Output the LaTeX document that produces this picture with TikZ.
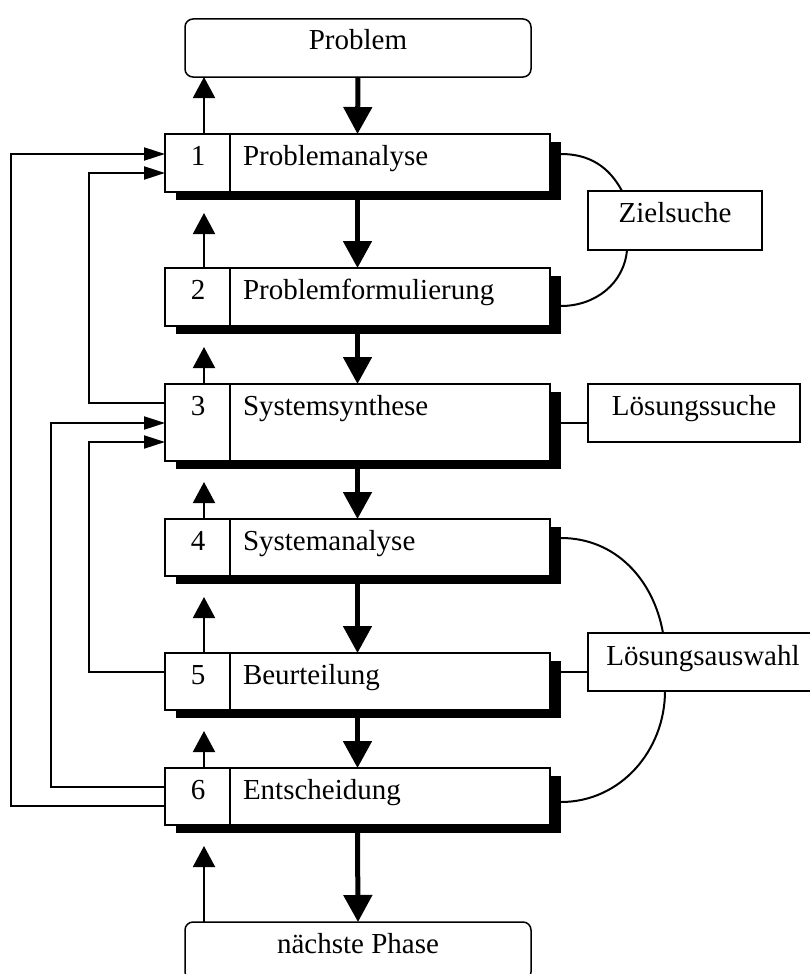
\documentclass[tikz,border=0pt]{standalone}
\usepackage{fontspec}
\setmainfont{Liberation Serif}
\usetikzlibrary{arrows.meta,shadows,calc}
\begin{document}
\begin{tikzpicture}[x=1pt,y=1pt,
  every node/.style={inner sep=0pt,outer sep=0pt},
  stepbox/.style={draw,line width=1.5pt,fill=white,anchor=north west,minimum width=385pt,
    drop shadow={shadow xshift=11pt,shadow yshift=-8pt,fill=black,opacity=1}},
  sidebox/.style={draw,line width=1.5pt,fill=white,anchor=north west},
  endbox/.style={draw,line width=1.5pt,fill=white,rounded corners=8pt,anchor=north west,minimum width=346pt,minimum height=58pt},
  lbl/.style={font=\fontsize{29}{34}\selectfont,anchor=base},
  lblw/.style={font=\fontsize{29}{34}\selectfont,anchor=base west},
  fb/.style={line width=2pt},
  hin/.style={line width=2pt,-{Triangle[length=21pt,width=13pt]}},
  up/.style={line width=2pt,-{Triangle[length=21pt,width=22pt]}},
  down/.style={line width=5pt,-{Triangle[length=27pt,width=28pt]}},
  conn/.style={line width=2pt}
]
\useasboundingbox (0,0) rectangle (810,-974);

% end boxes
\node[endbox] (prob) at (185,-19) {};
\node[lbl] (probt) at (358,-50) {Problem};
\node[endbox] (next) at (185,-922) {};
\node[lbl] (nextt) at (358,-953) {nächste Phase};

% step boxes
\node[stepbox,minimum height=58pt] (b1) at (165,-134) {};
\node[stepbox,minimum height=58pt] (b2) at (165,-268) {};
\node[stepbox,minimum height=77pt] (b3) at (165,-384) {};
\node[stepbox,minimum height=57pt] (b4) at (165,-519) {};
\node[stepbox,minimum height=57pt] (b5) at (165,-653) {};
\node[stepbox,minimum height=57pt] (b6) at (165,-768) {};

\foreach \b/\n/\t in {b1/1/Problemanalyse,b2/2/Problemformulierung,b3/3/Systemsynthese,b4/4/Systemanalyse,b5/5/Beurteilung,b6/6/Entscheidung}{
  \draw[line width=1.5pt] ([xshift=65pt]\b.north west) -- ([xshift=65pt]\b.south west);
  \node[lbl] (\b n) at ([xshift=33pt,yshift=-31pt]\b.north west) {\n};
  \node[lblw] (\b t) at ([xshift=78pt,yshift=-31pt]\b.north west) {\t};
}

% side boxes
\node[sidebox,minimum width=174pt,minimum height=59pt] (z) at (588,-191) {};
\node[lbl] (zt) at ([yshift=-31pt]z.north) {Zielsuche};
\node[sidebox,minimum width=212pt,minimum height=58pt] (ls) at (588,-384) {};
\node[lbl] (lst) at ([yshift=-31pt]ls.north) {Lösungssuche};
\node[sidebox,minimum width=226pt,minimum height=58pt] (la) at (588,-633) {};
\node[lbl] (lat) at ([xshift=2pt,yshift=-32pt]la.north) {Lösungsauswahl};

% down arrows
\draw[down] (prob.south) -- (b1.north);
\draw[down] ([yshift=-8pt]b1.south) -- (b2.north);
\draw[down] ([yshift=-8pt]b2.south) -- (b3.north);
\draw[down] ([yshift=-8pt]b3.south) -- (b4.north);
\draw[down] ([yshift=-8pt]b4.south) -- (b5.north);
\draw[down] ([yshift=-8pt]b5.south) -- (b6.north);
\draw[down] ([yshift=-8pt]b6.south) -- (next.north);

% up arrows
\draw[up] ([xshift=39pt]b1.north west) -- ([xshift=19pt]prob.south west);
\draw[up] ([xshift=39pt]b2.north west) -- ([xshift=39pt,yshift=-21pt]b1.south west);
\draw[up] ([xshift=39pt]b3.north west) -- ([xshift=39pt,yshift=-21pt]b2.south west);
\draw[up] ([xshift=39pt]b4.north west) -- ([xshift=39pt,yshift=-21pt]b3.south west);
\draw[up] ([xshift=39pt]b5.north west) -- ([xshift=39pt,yshift=-21pt]b4.south west);
\draw[up] ([xshift=39pt]b6.north west) -- ([xshift=39pt,yshift=-21pt]b5.south west);
\draw[up] ([xshift=19pt]next.north west) -- ([xshift=39pt,yshift=-21pt]b6.south west);

% feedback loops
\draw[hin] ([yshift=-19pt]b3.north west) -| (89,-173) -- ([yshift=-39pt]b1.north west);
\draw[hin] ([yshift=-38pt]b6.north west) -| (11,-154) -- ([yshift=-20pt]b1.north west);
\draw[hin] ([yshift=-19pt]b6.north west) -| (51,-423) -- ([yshift=-39pt]b3.north west);
\draw[hin] ([yshift=-19pt]b5.north west) -| (89,-442) -- ([yshift=-58pt]b3.north west);

% side connections
\draw[conn] ([xshift=11pt,yshift=-20pt]b1.north east) to[out=0,in=118] ([xshift=34pt]z.north west);
\draw[conn] ([xshift=39pt]z.south west) to[out=-95,in=0] ([xshift=11pt,yshift=-38pt]b2.north east);
\draw[conn] ([xshift=11pt,yshift=-39pt]b3.north east) -- ([yshift=-39pt]ls.north west);
\draw[conn] ([xshift=11pt,yshift=-19pt]b4.north east) to[out=0,in=100] ([xshift=75pt]la.north west);
\draw[conn] ([xshift=11pt,yshift=-19pt]b5.north east) -- ([yshift=-39pt]la.north west);
\draw[conn] ([xshift=77pt]la.south west) to[out=-90,in=0] ([xshift=11pt,yshift=-34pt]b6.north east);
\end{tikzpicture}
\end{document}
